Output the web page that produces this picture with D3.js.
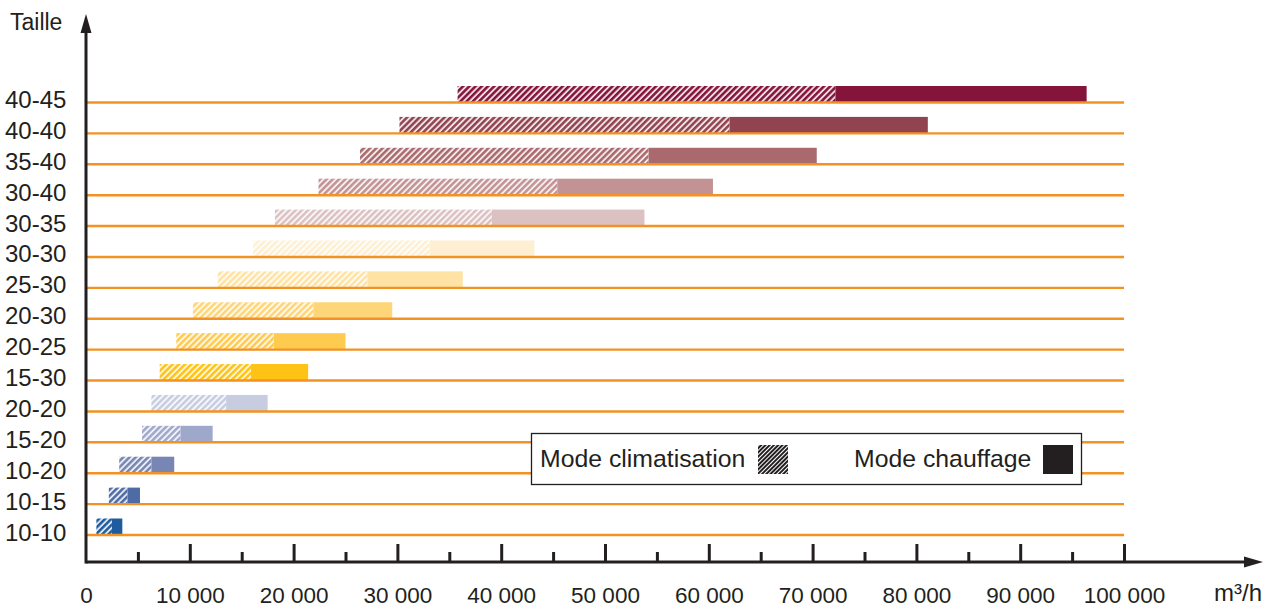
<!DOCTYPE html>
<html>
<head>
<meta charset="utf-8">
<script src="https://cdn.jsdelivr.net/npm/d3@7"></script>
<style>
  html, body { margin: 0; padding: 0; background: #fff; }
  svg { display: block; font-family: "Liberation Sans", Arial, sans-serif; }
</style>
</head>
<body>
<svg id="chart" width="1273" height="608"></svg>
<script>
// ---- data ----
const categories = ["40-45","40-40","35-40","30-40","30-35","30-30","25-30","20-30","20-25","15-30","20-20","15-20","10-20","10-15","10-10"];
const coolStart  = [35800,30200,26400,22400,18200,16100,12700,10300,8700,7100,6300,5400,3200,2200,1000];
const coolEnd    = [72200,62000,54200,45400,39100,33100,27100,21900,18100,15900,13500,9100,6300,4000,2500];
const heatEnd    = [96400,81100,70400,60400,53800,43200,36300,29500,25000,21400,17500,12200,8500,5200,3500];
const barColors  = ["#84143a","#924350","#aa6a6d","#c29294","#dcc1c2","#feefd2","#fee3a4","#fed679","#fecb4f","#fec314","#c8cce0","#9ea8cb","#7886b4","#4e6ba6","#1f5c9d"];
const xTicksMajor = [0,10000,20000,30000,40000,50000,60000,70000,80000,90000,100000];
const xTicksMinor = [5000,15000,25000,35000,45000,55000,65000,75000,85000,95000];
const legendLabels = ["Mode climatisation","Mode chauffage"];
const yTitle = "Taille";
const xUnit = "m³/h";

// ---- layout ----
const svg = d3.select("#chart");
const x0 = 86, x1 = 1124, axisY = 562;
const x = d3.scaleLinear().domain([0, 100000]).range([x0, x1]);
const y = d3.scalePoint().domain(categories.slice().reverse()).range([535, 102.5]);
const barH = 16.5;
const ink = "#231f20";
const orange = "#f39222";

const defs = svg.append("defs");
categories.forEach((c, i) => {
  const p = defs.append("pattern")
    .attr("id", "hatch" + i)
    .attr("patternUnits", "userSpaceOnUse")
    .attr("width", 4.4).attr("height", 4.4)
    .attr("patternTransform", "rotate(45)");
  p.append("rect").attr("width", 4.4).attr("height", 4.4).attr("fill", barColors[i]).attr("opacity", 0.15);
  p.append("rect").attr("x", 0).attr("y", 0).attr("width", 2.5).attr("height", 4.4).attr("fill", barColors[i]);
});
const lp = defs.append("pattern")
  .attr("id", "hatchLegend")
  .attr("patternUnits", "userSpaceOnUse")
  .attr("width", 3).attr("height", 3)
  .attr("patternTransform", "rotate(45)");
lp.append("rect").attr("width", 2).attr("height", 3).attr("fill", ink);

const rows = categories.map((c, i) => ({ c, i, s: coolStart[i], m: coolEnd[i], e: heatEnd[i], col: barColors[i] }));

// hatched (cooling) part
svg.append("g").selectAll("rect").data(rows).join("rect")
  .attr("x", d => x(d.s))
  .attr("y", d => y(d.c) - barH)
  .attr("width", d => x(d.m) - x(d.s))
  .attr("height", barH)
  .attr("fill", d => `url(#hatch${d.i})`);

// solid (heating) part
svg.append("g").selectAll("rect").data(rows).join("rect")
  .attr("x", d => x(d.m))
  .attr("y", d => y(d.c) - barH)
  .attr("width", d => x(d.e) - x(d.m))
  .attr("height", barH)
  .attr("fill", d => d.col);

// orange grid lines
svg.append("g").selectAll("line").data(categories).join("line")
  .attr("x1", x0).attr("x2", x1)
  .attr("y1", d => y(d)).attr("y2", d => y(d))
  .attr("stroke", orange).attr("stroke-width", 2.4);

// row labels
svg.append("g").selectAll("text").data(categories).join("text")
  .attr("x", 5).attr("y", d => y(d) + 5.5)
  .attr("font-size", 24).attr("fill", ink)
  .text(d => d);

// x axis with ticks
const fmt = v => v === 0 ? "0" : d3.format(",")(v).replace(/,/g, " ");
const axMajor = d3.axisBottom(x).tickValues(xTicksMajor).tickSize(-18).tickPadding(25).tickFormat(fmt);
const gA = svg.append("g").attr("transform", `translate(0,${axisY})`).call(axMajor);
gA.select(".domain").remove();
gA.selectAll(".tick line").attr("stroke", ink).attr("stroke-width", 3);
gA.selectAll(".tick text").attr("font-size", 22.5).attr("fill", ink)
  .attr("font-family", "'Liberation Sans', Arial, sans-serif");
gA.selectAll(".tick").filter(d => d === 0).select("line").remove();

const axMinor = d3.axisBottom(x).tickValues(xTicksMinor).tickSize(-10).tickFormat("");
const gM = svg.append("g").attr("transform", `translate(0,${axisY})`).call(axMinor);
gM.select(".domain").remove();
gM.selectAll(".tick line").attr("stroke", ink).attr("stroke-width", 3);

// axis lines + arrows
svg.append("line").attr("x1", x0).attr("x2", 1248).attr("y1", axisY).attr("y2", axisY)
  .attr("stroke", ink).attr("stroke-width", 3);
svg.append("line").attr("x1", x0).attr("x2", x0).attr("y1", axisY + 1.5).attr("y2", 30)
  .attr("stroke", ink).attr("stroke-width", 3);
svg.append("path").attr("d", `M${x0},14 L${x0 - 5.5},33 L${x0 + 5.5},33 Z`).attr("fill", ink);
svg.append("path").attr("d", `M1263,${axisY} L1244,${axisY - 5.5} L1244,${axisY + 5.5} Z`).attr("fill", ink);

// titles
svg.append("text").attr("x", 10).attr("y", 30).attr("font-size", 23).attr("fill", ink).text(yTitle);
svg.append("text").attr("x", 1262).attr("y", 601).attr("text-anchor", "end").attr("font-size", 24).attr("fill", ink).text(xUnit);

// legend
const lg = svg.append("g");
lg.append("rect").attr("x", 531.5).attr("y", 433.5).attr("width", 550).attr("height", 51)
  .attr("fill", "#fff").attr("stroke", ink).attr("stroke-width", 1.3);
lg.append("text").attr("x", 540).attr("y", 466.5).attr("font-size", 24.8).attr("fill", ink).text(legendLabels[0]);
lg.append("rect").attr("x", 758).attr("y", 445).attr("width", 30).attr("height", 29).attr("fill", "url(#hatchLegend)");
lg.append("text").attr("x", 854).attr("y", 466.5).attr("font-size", 24.8).attr("fill", ink).text(legendLabels[1]);
lg.append("rect").attr("x", 1043).attr("y", 445).attr("width", 30).attr("height", 29).attr("fill", ink);
</script>
</body>
</html>
